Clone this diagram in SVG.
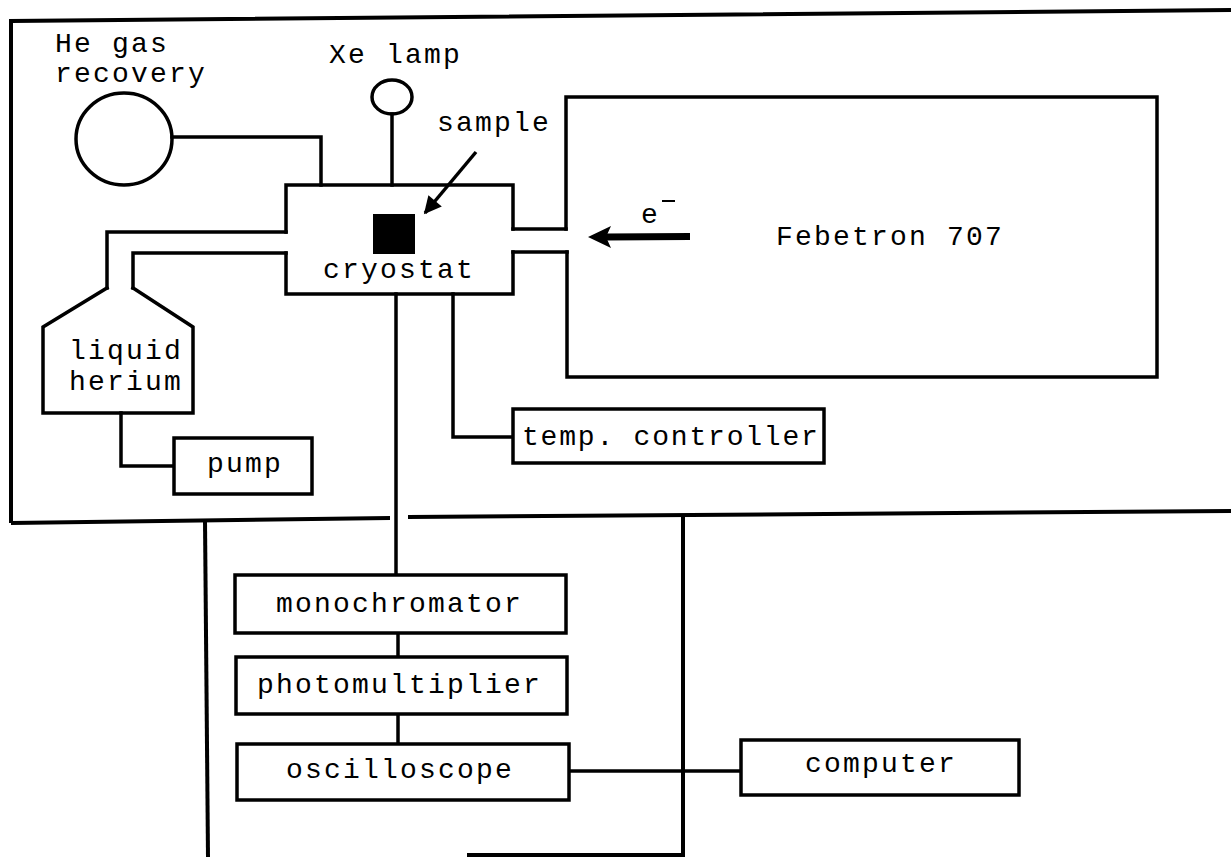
<svg xmlns="http://www.w3.org/2000/svg" width="1231" height="857" viewBox="0 0 1231 857">
<style>
.ln{fill:none;stroke:#000;stroke-width:3.5;stroke-linejoin:miter;stroke-linecap:square}
.wall{fill:none;stroke:#000;stroke-width:4;stroke-linecap:butt}
.box{fill:#fff;stroke:#000;stroke-width:3.5}
text{font-family:"Liberation Mono","DejaVu Sans Mono",monospace;font-size:28px;fill:#000;letter-spacing:2.2px}
</style>
<defs>
<marker id="ah" viewBox="0 0 10 10" refX="9" refY="5" markerWidth="6" markerHeight="5" markerUnits="strokeWidth" orient="auto">
<path d="M0,0 L10,5 L0,10 z" fill="#000"/>
</marker>
</defs>
<rect width="1231" height="857" fill="#fff"/>
<g id="room">
<path class="wall" d="M11,523 L11,21 L1231,10"/>
<path class="wall" d="M11,523 L390,518"/>
<path class="wall" d="M408,517 L1231,511"/>
<path class="wall" d="M205,521 L208,857"/>
<path class="wall" d="M683,516 L683,855 L467,855"/>
</g>
<g id="connectors">
<path class="ln" d="M172,137 H321 V185"/>
<path class="ln" d="M392,114 V185"/>
<path class="ln" d="M286,232 H107 V288"/>
<path class="ln" d="M286,253 H133 V288"/>
<path class="ln" d="M513,229 H566"/>
<path class="ln" d="M513,252 H567"/>
<path class="ln" d="M453,294 V437 H513"/>
<path class="ln" d="M396,294 V575"/>
<path class="ln" d="M121,413 V466 H174"/>
<path class="ln" d="M398,633 V657"/>
<path class="ln" d="M398,714 V744"/>
<path class="ln" d="M569,771 H741"/>
<line x1="476" y1="152" x2="425" y2="213" stroke="#000" stroke-width="3.5" marker-end="url(#ah)"/>
</g>
<g id="he-recovery">
<ellipse cx="124" cy="139" rx="48" ry="46" class="ln"/>
<text x="55" y="52">He gas</text>
<text x="55" y="82">recovery</text>
</g>
<g id="xe-lamp">
<ellipse cx="392" cy="97" rx="20" ry="17" class="ln"/>
<text x="329" y="63">Xe lamp</text>
</g>
<g id="cryostat">
<path class="ln" d="M286,232 V185 H513 V229 M513,252 V294 H286 V253"/>
<rect x="373" y="214" width="42" height="40" fill="#000"/>
<text x="323" y="278">cryostat</text>
</g>
<g id="sample-label">
<text x="437" y="131">sample</text>
</g>
<g id="febetron">
<path class="ln" d="M566,229 V97 H1157 V377 H567 V252"/>
<text x="776" y="245">Febetron 707</text>
<line x1="690" y1="236.5" x2="606" y2="237" stroke="#000" stroke-width="7"/>
<polygon points="588,237 611,226 606,237 611,248" fill="#000"/>
<text x="641" y="223">e</text>
<line x1="662" y1="201" x2="675" y2="201" stroke="#000" stroke-width="2"/>
</g>
<g id="liquid-helium">
<path class="ln" d="M107,288 L43,327 V413 H193 V327 L133,288"/>
<text x="69" y="359">liquid</text>
<text x="69" y="390">herium</text>
</g>
<g id="pump">
<rect class="box" x="174" y="438" width="138" height="56"/>
<text x="207" y="472">pump</text>
</g>
<g id="temp-controller">
<rect class="box" x="513" y="409" width="311" height="54"/>
<text x="522" y="445" style="letter-spacing:1.8px">temp. controller</text>
</g>
<g id="monochromator">
<rect class="box" x="235" y="575" width="331" height="58"/>
<text x="276" y="612">monochromator</text>
</g>
<g id="photomultiplier">
<rect class="box" x="236" y="657" width="331" height="57"/>
<text x="257" y="693">photomultiplier</text>
</g>
<g id="oscilloscope">
<rect class="box" x="237" y="744" width="332" height="56"/>
<text x="286" y="778">oscilloscope</text>
</g>
<g id="computer">
<rect class="box" x="741" y="740" width="278" height="55"/>
<text x="805" y="772">computer</text>
</g>
</svg>
